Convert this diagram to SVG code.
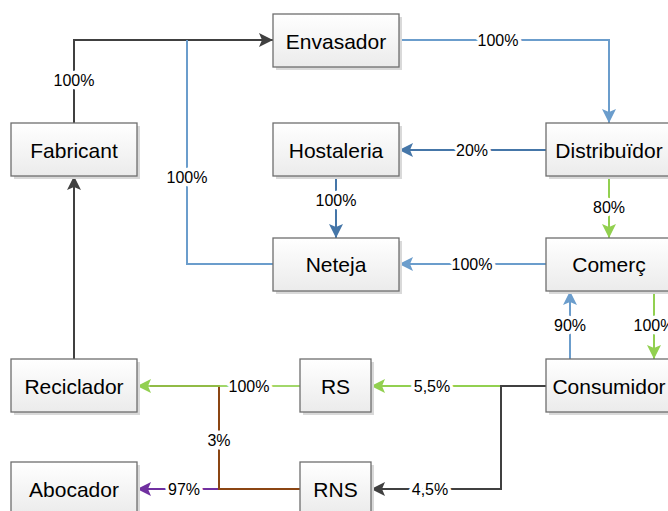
<svg xmlns="http://www.w3.org/2000/svg" width="668" height="511" viewBox="0 0 668 511">
<style>
.box{fill:url(#g);stroke:#6e6e6e;stroke-width:1.3}
.sh{fill:#d9d9d9}
.nt{font-family:"Liberation Sans",Arial,sans-serif;font-size:21px;fill:#000;text-anchor:middle}
.lb{font-family:"Liberation Sans",Arial,sans-serif;font-size:16px;fill:#000;text-anchor:middle;stroke:#fff;stroke-width:7px;paint-order:stroke;stroke-linejoin:round}
.c{fill:none;stroke-width:2}
</style>
<defs>
<linearGradient id="g" x1="0" y1="0" x2="0" y2="1"><stop offset="0" stop-color="#ffffff"/><stop offset="1" stop-color="#ebebeb"/></linearGradient>
<marker id="aK" markerUnits="userSpaceOnUse" markerWidth="14" markerHeight="14" refX="14" refY="7" orient="auto"><path d="M0,0 L14,7 L0,14 L3,7 z" fill="#404040"/></marker>
<marker id="aB" markerUnits="userSpaceOnUse" markerWidth="14" markerHeight="14" refX="14" refY="7" orient="auto"><path d="M0,0 L14,7 L0,14 L3,7 z" fill="#6b9dcc"/></marker>
<marker id="aD" markerUnits="userSpaceOnUse" markerWidth="14" markerHeight="14" refX="14" refY="7" orient="auto"><path d="M0,0 L14,7 L0,14 L3,7 z" fill="#4576a8"/></marker>
<marker id="aG" markerUnits="userSpaceOnUse" markerWidth="14" markerHeight="14" refX="14" refY="7" orient="auto"><path d="M0,0 L14,7 L0,14 L3,7 z" fill="#92d050"/></marker>
<marker id="aP" markerUnits="userSpaceOnUse" markerWidth="14" markerHeight="14" refX="14" refY="7" orient="auto"><path d="M0,0 L14,7 L0,14 L3,7 z" fill="#7030a0"/></marker>
</defs>
<g id="connectors">
<path class="c" stroke="#404040" d="M74,123 V40 H273" marker-end="url(#aK)"/>
<path class="c" stroke="#6b9dcc" d="M273,264 H187 V40"/>
<path class="c" stroke="#6b9dcc" d="M399,40 H609 V123" marker-end="url(#aB)"/>
<path class="c" stroke="#4576a8" d="M546,150 H399" marker-end="url(#aD)"/>
<path class="c" stroke="#4576a8" d="M336,176 V238" marker-end="url(#aD)"/>
<path class="c" stroke="#92d050" d="M609,176 V238" marker-end="url(#aG)"/>
<path class="c" stroke="#6b9dcc" d="M546,264 H399" marker-end="url(#aB)"/>
<path class="c" stroke="#92d050" d="M654,291 V359" marker-end="url(#aG)"/>
<path class="c" stroke="#6b9dcc" d="M570,359 V291" marker-end="url(#aB)"/>
<path class="c" stroke="#92d050" d="M546,386 H371" marker-end="url(#aG)"/>
<path class="c" stroke="#404040" d="M546,386 H501 V489 H371" marker-end="url(#aK)"/>
<path class="c" stroke="#7030a0" d="M300,489 H137" marker-end="url(#aP)"/>
<path class="c" stroke="#8b4513" d="M300,489 H219 V386 H150"/>
<path class="c" stroke="#92d050" stroke-opacity="0.85" d="M300,386 H137" marker-end="url(#aG)"/>
<path class="c" stroke="#404040" d="M74,359 V176" marker-end="url(#aK)"/>
<text class="lb" x="74" y="86">100%</text>
<text class="lb" x="187" y="183">100%</text>
<text class="lb" x="498" y="46">100%</text>
<text class="lb" x="472" y="156">20%</text>
<text class="lb" x="336" y="206">100%</text>
<text class="lb" x="609" y="213">80%</text>
<text class="lb" x="472" y="270">100%</text>
<text class="lb" x="570" y="331">90%</text>
<text class="lb" x="654" y="331">100%</text>
<text class="lb" x="432" y="392">5,5%</text>
<text class="lb" x="430" y="495">4,5%</text>
<text class="lb" x="249" y="392">100%</text>
<text class="lb" x="219" y="446">3%</text>
<text class="lb" x="184" y="495">97%</text>
</g>
<g id="fabricant"><rect class="sh" x="14" y="126" width="126" height="53"/><rect class="box" x="11" y="123" width="126" height="53"/><text class="nt" x="74" y="157.5">Fabricant</text></g>
<g id="envasador"><rect class="sh" x="276" y="17" width="126" height="53"/><rect class="box" x="273" y="14" width="126" height="53"/><text class="nt" x="336" y="48.5">Envasador</text></g>
<g id="hostaleria"><rect class="sh" x="276" y="126" width="126" height="53"/><rect class="box" x="273" y="123" width="126" height="53"/><text class="nt" x="336" y="157.5">Hostaleria</text></g>
<g id="distribuidor"><rect class="sh" x="549" y="126" width="126" height="53"/><rect class="box" x="546" y="123" width="126" height="53"/><text class="nt" x="609" y="157.5">Distribuïdor</text></g>
<g id="neteja"><rect class="sh" x="276" y="241" width="126" height="53"/><rect class="box" x="273" y="238" width="126" height="53"/><text class="nt" x="336" y="272">Neteja</text></g>
<g id="comerc"><rect class="sh" x="549" y="241" width="126" height="53"/><rect class="box" x="546" y="238" width="126" height="53"/><text class="nt" x="609" y="272">Comerç</text></g>
<g id="reciclador"><rect class="sh" x="14" y="362" width="126" height="53"/><rect class="box" x="11" y="359" width="126" height="53"/><text class="nt" x="74" y="393.5">Reciclador</text></g>
<g id="rs"><rect class="sh" x="303" y="362" width="71" height="53"/><rect class="box" x="300" y="359" width="71" height="53"/><text class="nt" x="335.5" y="393.5">RS</text></g>
<g id="consumidor"><rect class="sh" x="549" y="362" width="126" height="53"/><rect class="box" x="546" y="359" width="126" height="53"/><text class="nt" x="609" y="393.5">Consumidor</text></g>
<g id="abocador"><rect class="sh" x="14" y="465" width="126" height="53"/><rect class="box" x="11" y="462" width="126" height="53"/><text class="nt" x="74" y="496.5">Abocador</text></g>
<g id="rns"><rect class="sh" x="303" y="465" width="71" height="53"/><rect class="box" x="300" y="462" width="71" height="53"/><text class="nt" x="335.5" y="496.5">RNS</text></g>
</svg>
